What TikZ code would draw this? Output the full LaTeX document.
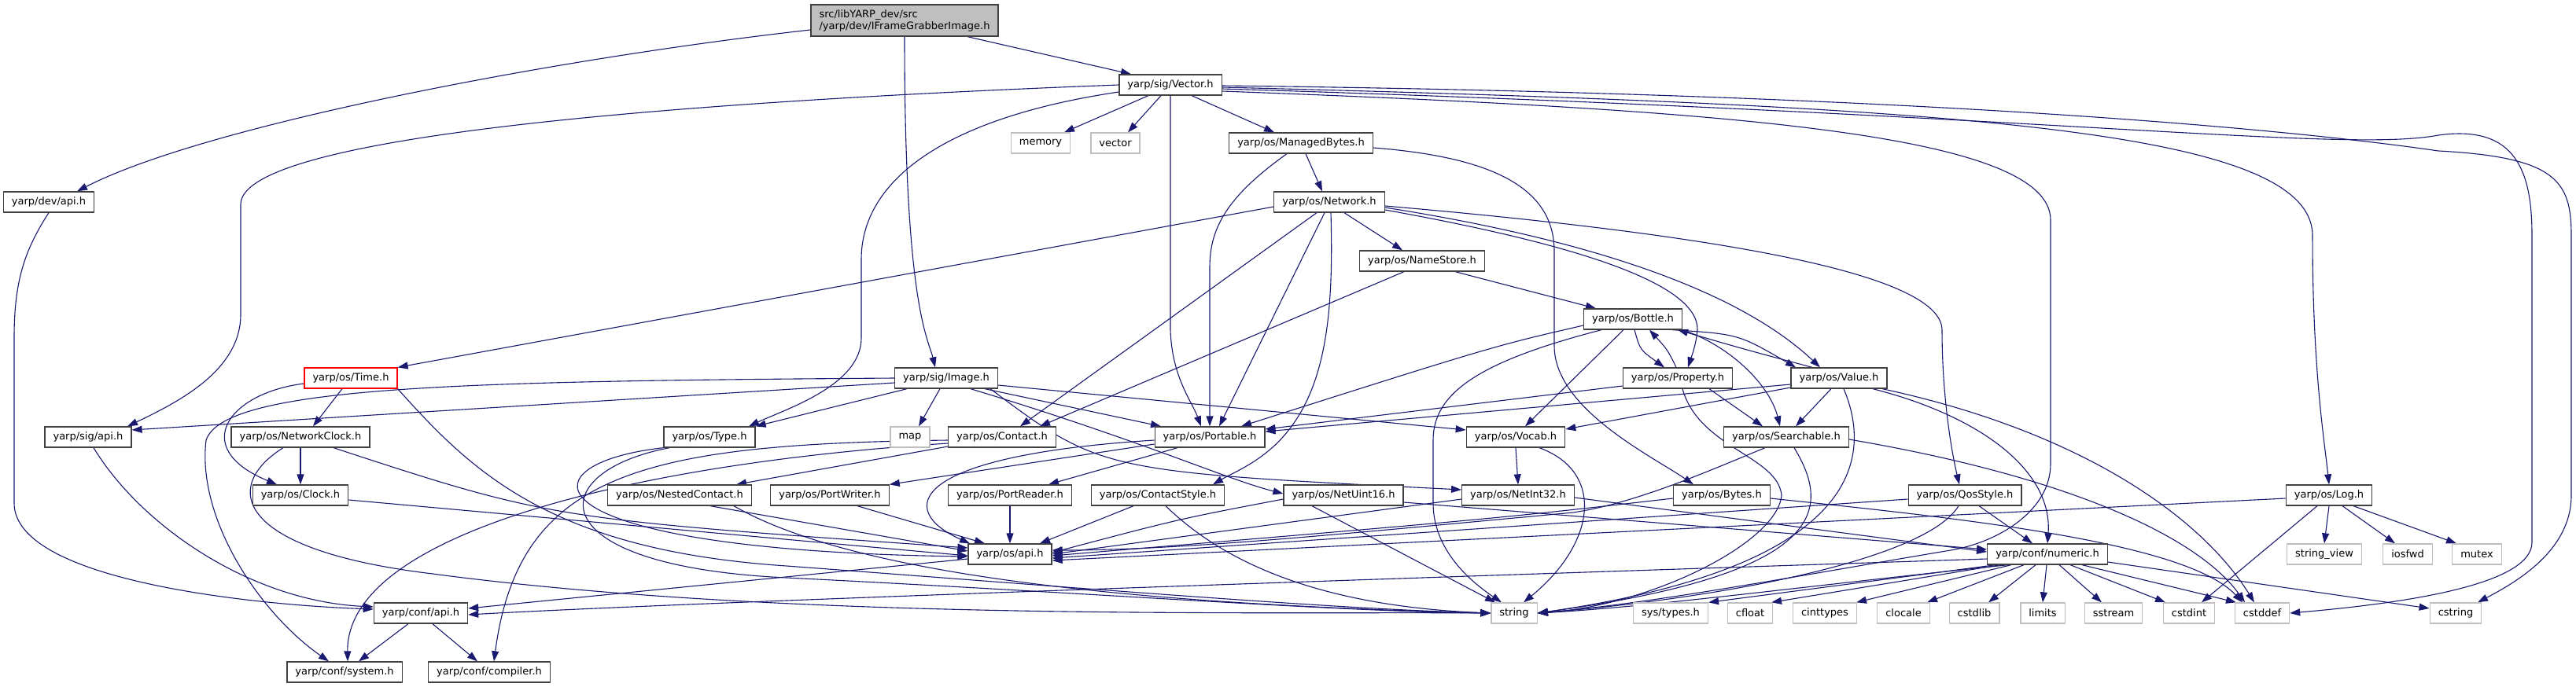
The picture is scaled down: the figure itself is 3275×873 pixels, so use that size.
\documentclass[tikz,border=0pt]{standalone}
\usepackage{fontspec}
\setmainfont{DejaVu Sans}
\usetikzlibrary{arrows.meta,backgrounds}
\definecolor{edgeblue}{HTML}{191970}
\definecolor{boxline}{HTML}{404040}
\definecolor{sysline}{HTML}{BFBFBF}
\definecolor{rootfill}{HTML}{BFBFBF}

\begin{document}
\begin{tikzpicture}[
        x=1pt, y=-1pt,
        every node/.style={font=\fontsize{13}{15}\selectfont, inner xsep=10.5pt, inner ysep=0pt, minimum height=26pt},
        inc/.style={draw=boxline, line width=1.3pt, fill=white},
        sysinc/.style={draw=sysline, line width=1.3pt, fill=white},
        rootinc/.style={draw=boxline, line width=1.3pt, fill=rootfill, align=left, minimum height=40pt},
        cutinc/.style={draw=red, line width=1.3pt, fill=white},
        dep/.style={draw=edgeblue, line width=1.1pt, -{Triangle[length=13pt, width=9pt]}}
    ]
        \useasboundingbox (0,0) rectangle (3275,873);
        % Header nodes, row by row
        \node[rootinc] (root) at (1150,26) {src/libYARP\_dev/src\\/yarp/dev/IFrameGrabberImage.h};
        \node[inc] (vec) at (1488,108) {yarp/sig/Vector.h};
        \node[sysinc] (memory) at (1323,182) {memory};
        \node[sysinc] (vectorstd) at (1418,182) {vector};
        \node[inc] (mbytes) at (1654,182) {yarp/os/ManagedBytes.h};
        \node[inc] (devapi) at (62,257) {yarp/dev/api.h};
        \node[inc] (network) at (1690,257) {yarp/os/Network.h};
        \node[inc] (namestore) at (1808,332) {yarp/os/NameStore.h};
        \node[inc] (bottle) at (2076,406) {yarp/os/Bottle.h};
        \node[cutinc] (time) at (446,481) {yarp/os/Time.h};
        \node[inc] (image) at (1203,481) {yarp/sig/Image.h};
        \node[inc] (property) at (2133,481) {yarp/os/Property.h};
        \node[inc] (value) at (2338,481) {yarp/os/Value.h};
        \node[inc] (sigapi) at (112,556) {yarp/sig/api.h};
        \node[inc] (nclock) at (382,556) {yarp/os/NetworkClock.h};
        \node[inc] (type) at (902,556) {yarp/os/Type.h};
        \node[sysinc] (map) at (1157,556) {map};
        \node[inc] (contact) at (1274,556) {yarp/os/Contact.h};
        \node[inc] (portable) at (1538,556) {yarp/os/Portable.h};
        \node[inc] (vocab) at (1927,556) {yarp/os/Vocab.h};
        \node[inc] (searchable) at (2271,556) {yarp/os/Searchable.h};
        \node[inc] (clock) at (382,630) {yarp/os/Clock.h};
        \node[inc] (nested) at (864,630) {yarp/os/NestedContact.h};
        \node[inc] (pwriter) at (1055,630) {yarp/os/PortWriter.h};
        \node[inc] (preader) at (1284,630) {yarp/os/PortReader.h};
        \node[inc] (cstyle) at (1472,630) {yarp/os/ContactStyle.h};
        \node[inc] (nuint16) at (1708,630) {yarp/os/NetUint16.h};
        \node[inc] (nint32) at (1930,630) {yarp/os/NetInt32.h};
        \node[inc] (bytes) at (2189,630) {yarp/os/Bytes.h};
        \node[inc] (qos) at (2498,630) {yarp/os/QosStyle.h};
        \node[inc] (log) at (2961,630) {yarp/os/Log.h};
        \node[inc] (osapi) at (1284,705) {yarp/os/api.h};
        \node[inc] (numeric) at (2603,705) {yarp/conf/numeric.h};
        \node[sysinc] (strview) at (2955,705) {string\_view};
        \node[sysinc] (iosfwd) at (3061,705) {iosfwd};
        \node[sysinc] (mutex) at (3149,705) {mutex};
        \node[inc] (confapi) at (535,780) {yarp/conf/api.h};
        \node[sysinc] (string) at (1925,780) {string};
        \node[sysinc] (systypes) at (2124,780) {sys/types.h};
        \node[sysinc] (cfloat) at (2225,780) {cfloat};
        \node[sysinc] (cinttypes) at (2320,780) {cinttypes};
        \node[sysinc] (clocale) at (2420,780) {clocale};
        \node[sysinc] (cstdlib) at (2510,780) {cstdlib};
        \node[sysinc] (limits) at (2597,780) {limits};
        \node[sysinc] (sstream) at (2687,780) {sstream};
        \node[sysinc] (cstdint) at (2783,780) {cstdint};
        \node[sysinc] (cstddef) at (2876,780) {cstddef};
        \node[sysinc] (cstring) at (3122,780) {cstring};
        \node[inc] (system) at (438,855) {yarp/conf/system.h};
        \node[inc] (compiler) at (622,855) {yarp/conf/compiler.h};

        \begin{scope}[on background layer]
        \fill[white] (0,0) rectangle (3275,873);
        % IFrameGrabberImage.h
        \draw[dep] ([yshift=-12pt]root.west) .. controls (700,75) and (260,160) .. ([xshift=36pt]devapi.north);
        \draw[dep] ([xshift=80pt]root.south) -- ([xshift=-50pt]vec.north);
        \draw[dep] (root.south) .. controls (1150,390) and (1180,430) .. ([xshift=-14pt]image.north);
        \draw[dep] (devapi.south) .. controls (30,320) and (18,360) .. (18,430) -- (18,640) .. controls (18,740) and (330,770) .. ([yshift=5pt]confapi.west);
        % Vector.h
        \draw[dep] (vec.west) .. controls (900,128) and (306,170) .. (306,260) -- (306,400) .. controls (306,470) and (230,510) .. ([xshift=50pt]sigapi.north);
        \draw[dep] ([yshift=-9pt]vec.west) .. controls (1200,150) and (1095,230) .. (1095,330) -- (1095,430) .. controls (1095,490) and (1000,520) .. ([xshift=50pt]type.north);
        \draw[dep] ([xshift=-28pt]vec.south) -- ([xshift=30pt]memory.north);
        \draw[dep] ([xshift=-12pt]vec.south) -- ([xshift=16pt]vectorstd.north);
        \draw[dep] ([xshift=27pt]vec.south) -- ([xshift=-34pt]mbytes.north);
        \draw[dep] (vec.south) -- (1488,420) .. controls (1490,480) and (1515,510) .. ([xshift=-11pt]portable.north);
        \draw[dep] ([yshift=-8pt]vec.east) .. controls (2200,140) and (2607,170) .. (2607,280) -- (2607,590) .. controls (2607,650) and (2540,690) .. (2480,700) .. controls (2300,730) and (2100,768) .. (string.east);
        \draw[dep] ([yshift=-3pt]vec.east) .. controls (2500,135) and (2940,165) .. (2940,300) .. controls (2940,470) and (2955,560) .. (log.north);
        \draw[dep] ([yshift=-5pt]vec.east) .. controls (2600,145) and (2980,195) .. (3100,172) .. controls (3200,158) and (3219,220) .. (3219,300) -- (3219,690) .. controls (3219,745) and (3050,768) .. (cstddef.east);
        \draw[dep] ([yshift=-1pt]vec.east) .. controls (2500,120) and (2950,170) .. (3100,192) .. controls (3250,200) and (3269,230) .. (3269,300) -- (3269,630) .. controls (3269,700) and (3200,740) .. ([xshift=28pt]cstring.north);
        % ManagedBytes.h
        \draw[dep] ([xshift=6pt]mbytes.south) -- ([xshift=-9pt]network.north);
        \draw[dep] ([xshift=-18pt]mbytes.south) .. controls (1560,250) and (1538,290) .. (1538,340) -- (portable.north);
        \draw[dep] ([yshift=-6pt]mbytes.east) .. controls (1900,200) and (1976,240) .. (1976,320) -- (1976,440) .. controls (1976,520) and (2100,580) .. ([xshift=-36pt]bytes.north);
        % Network.h
        \draw[dep] ([yshift=-6pt]network.west) -- (time.north east);
        \draw[dep] ([xshift=-16pt]network.south) -- ([xshift=23pt]contact.north);
        \draw[dep] ([xshift=-6pt]network.south) -- ([xshift=12pt]portable.north);
        \draw[dep] ([xshift=2pt]network.south) .. controls (1695,380) and (1690,480) .. (1640,545) .. controls (1610,585) and (1570,600) .. ([xshift=70pt]cstyle.north);
        \draw[dep] ([xshift=19pt]network.south) -- ([xshift=-25pt]namestore.north);
        \draw[dep] ([yshift=-5pt]network.east) .. controls (2200,300) and (2469,350) .. (2469,420) .. controls (2469,500) and (2480,570) .. ([xshift=-7pt]qos.north);
        \draw[dep] ([yshift=-7pt]network.east) .. controls (1990,300) and (2200,360) .. ([xshift=-24pt]value.north);
        \draw[dep] ([yshift=-10pt]network.east) .. controls (2000,310) and (2160,360) .. (2158,420) .. controls (2156,440) and (2150,455) .. ([xshift=13pt]property.north);
        % NameStore.h, Bottle.h
        \draw[dep] ([xshift=42pt]namestore.south) -- ([xshift=-47pt]bottle.north);
        \draw[dep] ([xshift=-23pt]namestore.south) -- ([xshift=48pt]contact.north);
        \draw[dep] ([yshift=-8pt]bottle.west) .. controls (1900,440) .. ([xshift=40pt]portable.north);
        \draw[dep] ([xshift=-12pt]bottle.south) -- ([xshift=12pt]vocab.north);
        \draw[dep] ([xshift=2pt]bottle.south) .. controls (2085,445) .. ([xshift=-17pt]property.north);
        \draw[dep] ([xshift=-2pt]property.north) .. controls (2120,445) .. ([xshift=21pt]bottle.south);
        \draw[dep] ([xshift=50pt]bottle.south) .. controls (2210,425) .. ([xshift=-55pt]value.north);
        \draw[dep] ([xshift=-34pt]value.north) .. controls (2220,445) .. ([xshift=57pt]bottle.south);
        \draw[dep] (bottle.south east) .. controls (2200,440) and (2250,490) .. ([xshift=-8pt]searchable.north);
        \draw[dep] ([xshift=-40pt]bottle.south) .. controls (1880,460) and (1822,500) .. (1822,560) -- (1822,640) .. controls (1822,700) and (1870,740) .. ([xshift=-16pt]string.north);
        % Image.h
        \draw[dep] ([yshift=-6pt]image.west) -- ([yshift=9pt]sigapi.east);
        \draw[dep] (image.west) .. controls (600,485) and (285,490) .. (262,560) .. controls (250,660) and (330,780) .. ([xshift=-20pt]system.north);
        \draw[dep] ([xshift=-50pt]image.south) -- (type.north east);
        \draw[dep] ([xshift=-8pt]image.south) -- ([xshift=11pt]map.north);
        \draw[dep] ([xshift=49pt]image.south) -- ([xshift=-62pt]portable.north);
        \draw[dep] ([yshift=-9pt]image.east) -- ([yshift=9pt]vocab.west);
        \draw[dep] ([xshift=56pt]image.south) .. controls (1400,600) .. ([yshift=7pt]nint32.west);
        \draw[dep] ([xshift=31pt]image.south) .. controls (1450,560) and (1560,610) .. ([yshift=2pt]nuint16.west);
        % Time.h, NetworkClock.h, Clock.h, sig/api.h
        \draw[dep] ([yshift=-7pt]time.west) .. controls (290,500) and (240,570) .. ([xshift=-30pt]clock.north);
        \draw[dep] ([xshift=-11pt]time.south) -- ([xshift=16pt]nclock.north);
        \draw[dep] (time.south east) .. controls (600,600) and (700,700) .. (1000,720) .. controls (1400,750) and (1700,775) .. (string.west);
        \draw[dep] (nclock) -- (clock);
        \draw[dep] ([xshift=42pt]nclock.south) .. controls (700,660) .. ([yshift=8pt]osapi.west);
        \draw[dep] ([xshift=-22pt]nclock.south) .. controls (280,620) and (300,700) .. (550,730) .. controls (1000,790) and (1600,778) .. (string.west);
        \draw[dep] ([yshift=-6pt]clock.east) -- ([yshift=-2pt]osapi.west);
        \draw[dep] ([xshift=7pt]sigapi.south) .. controls (180,670) and (320,765) .. ([yshift=8pt]confapi.west);
        % Type.h, Contact.h
        \draw[dep] (type.south west) .. controls (660,590) and (660,700) .. ([yshift=-3pt]osapi.west);
        \draw[dep] ([xshift=8pt]type.south west) .. controls (690,600) and (680,720) .. (1000,735) .. controls (1400,755) and (1700,778) .. (string.west);
        \draw[dep] ([yshift=-12pt]contact.west) -- ([xshift=72pt]nested.north);
        \draw[dep] ([yshift=-4pt]contact.west) .. controls (820,565) and (660,600) .. ([xshift=6pt]compiler.north);
        \draw[dep] ([yshift=-8pt]contact.west) .. controls (800,590) and (440,680) .. ([xshift=4pt]system.north);
        % Portable.h and its readers / writers
        \draw[dep] ([yshift=-9pt]portable.west) -- (pwriter.north east);
        \draw[dep] ([xshift=-41pt]portable.south) -- ([xshift=49pt]preader.north);
        \draw[dep] ([yshift=-4pt]portable.west) .. controls (1150,580) and (1140,650) .. ([xshift=-51pt]osapi.north);
        \draw[dep] ([xshift=35pt]pwriter.south) -- ([xshift=-32pt]osapi.north);
        \draw[dep] (preader) -- (osapi);
        \draw[dep] ([xshift=-31pt]cstyle.south) -- ([xshift=38pt]osapi.north);
        \draw[dep] ([xshift=10pt]cstyle.south) .. controls (1540,700) and (1650,770) .. (string.west);
        \draw[dep] ([xshift=39pt]nested.south) -- ([yshift=4pt]osapi.west);
        \draw[dep] ([xshift=69pt]nested.south) .. controls (1100,740) and (1500,770) .. (string.west);
        % NetUint16.h, NetInt32.h, Vocab.h, Bytes.h
        \draw[dep] ([yshift=-5pt]nuint16.west) .. controls (1500,660) .. ([yshift=2pt]osapi.east);
        \draw[dep] ([yshift=-9pt]nuint16.east) -- ([yshift=6pt]numeric.west);
        \draw[dep] ([xshift=-40pt]nuint16.south) -- ([xshift=-24pt]string.north);
        \draw[dep] ([yshift=-5pt]nint32.west) -- (osapi.east);
        \draw[dep] ([yshift=-3pt]nint32.east) -- ([yshift=3pt]numeric.west);
        \draw[dep] (vocab.south) -- (nint32.north);
        \draw[dep] ([xshift=30pt]vocab.south) .. controls (2040,600) and (2030,690) .. ([xshift=12pt]string.north);
        \draw[dep] ([yshift=-4pt]bytes.west) .. controls (1900,660) .. ([yshift=-2pt]osapi.east);
        \draw[dep] ([yshift=-4pt]bytes.east) .. controls (2500,660) and (2780,690) .. ([xshift=-25pt]cstddef.north);
        % QosStyle.h, Log.h
        \draw[dep] ([yshift=-5pt]qos.west) -- ([yshift=-5pt]osapi.east);
        \draw[dep] ([xshift=18pt]qos.south) -- ([xshift=-19pt]numeric.north);
        \draw[dep] ([xshift=-8pt]qos.south) .. controls (2450,710) and (2200,760) .. (string.east);
        \draw[dep] ([yshift=-4pt]log.west) -- ([yshift=-8pt]osapi.east);
        \draw[dep] ([xshift=-15pt]log.south) -- ([xshift=16pt]cstdint.north);
        \draw[dep] (log.south) -- (strview.north);
        \draw[dep] ([xshift=17pt]log.south) -- ([xshift=-16pt]iosfwd.north);
        \draw[dep] ([xshift=31pt]log.south) -- ([xshift=-26pt]mutex.north);
        % Searchable.h, Property.h, Value.h
        \draw[dep] ([xshift=-27pt]searchable.south) .. controls (2170,600) and (2080,640) .. (2000,652) .. controls (1700,680) and (1500,700) .. ([yshift=5pt]osapi.east);
        \draw[dep] ([xshift=10pt]searchable.south) .. controls (2330,650) and (2320,730) .. (string.east);
        \draw[dep] ([yshift=-3pt]searchable.east) .. controls (2650,610) and (2800,690) .. ([xshift=-22pt]cstddef.north);
        \draw[dep] ([yshift=-10pt]property.west) -- ([yshift=10pt]portable.east);
        \draw[dep] ([xshift=40pt]property.south) -- ([xshift=-30pt]searchable.north);
        \draw[dep] ([xshift=6pt]property.south) .. controls (2160,570) and (2260,580) .. (2265,630) .. controls (2260,690) and (2100,770) .. (string.east);
        \draw[dep] ([yshift=-8pt]value.west) -- ([yshift=7pt]portable.east);
        \draw[dep] ([yshift=-12pt]value.west) -- ([yshift=10pt]vocab.east);
        \draw[dep] ([xshift=-10pt]value.south) -- ([xshift=12pt]searchable.north);
        \draw[dep] ([xshift=6pt]value.south) .. controls (2380,580) and (2370,720) .. (string.east);
        \draw[dep] ([xshift=43pt]value.south) .. controls (2520,530) and (2610,600) .. (numeric.north);
        \draw[dep] ([xshift=55pt]value.south) .. controls (2650,550) and (2800,660) .. ([xshift=-10pt]cstddef.north);
        % conf/numeric.h
        \draw[dep] ([yshift=-6pt]numeric.west) .. controls (1800,735) and (900,765) .. ([yshift=-2pt]confapi.east);
        \draw[dep] ([xshift=-50pt]numeric.south) .. controls (2300,745) and (2100,772) .. (string.east);
        \draw[dep] ([xshift=-66pt]numeric.south) -- (systypes.north east);
        \draw[dep] ([xshift=-60pt]numeric.south) -- ([xshift=27pt]cfloat.north);
        \draw[dep] ([xshift=-46pt]numeric.south) -- ([xshift=40pt]cinttypes.north);
        \draw[dep] ([xshift=-30pt]numeric.south) -- ([xshift=30pt]clocale.north);
        \draw[dep] ([xshift=-15pt]numeric.south) -- ([xshift=18pt]cstdlib.north);
        \draw[dep] ([xshift=-1pt]numeric.south) -- (limits.north);
        \draw[dep] ([xshift=15pt]numeric.south) -- ([xshift=-15pt]sstream.north);
        \draw[dep] ([xshift=29pt]numeric.south) -- ([xshift=-30pt]cstdint.north);
        \draw[dep] ([xshift=44pt]numeric.south) -- ([xshift=-33pt]cstddef.north);
        \draw[dep] ([yshift=-10pt]numeric.east) -- ([yshift=6pt]cstring.west);
        % os/api.h, conf/api.h
        \draw[dep] ([yshift=-6pt]osapi.west) -- ([yshift=6pt]confapi.east);
        \draw[dep] ([xshift=-16pt]confapi.south) -- ([xshift=18pt]system.north);
        \draw[dep] ([xshift=15pt]confapi.south) -- ([xshift=-15pt]compiler.north);
        \end{scope}
    \end{tikzpicture}
\end{document}
